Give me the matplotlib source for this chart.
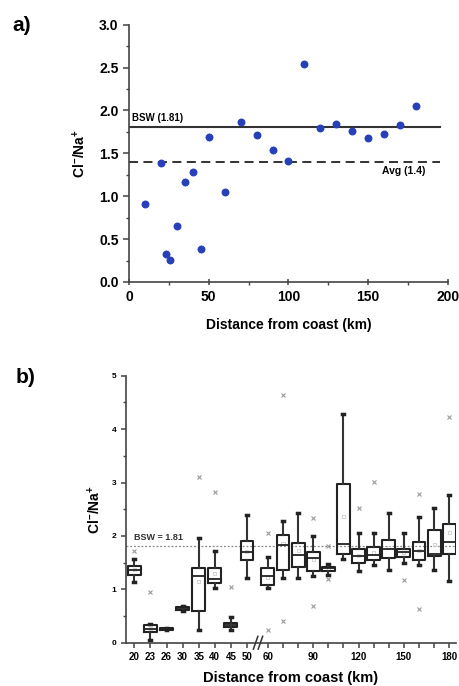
import matplotlib
matplotlib.use("Agg")
import matplotlib.pyplot as plt
import numpy as np

plt.rcParams['font.family'] = ['Liberation Sans', 'DejaVu Sans']
plt.rcParams['font.weight'] = 'bold'
plt.rcParams['mathtext.fontset'] = 'custom'
plt.rcParams['mathtext.rm'] = 'Liberation Sans:bold'
plt.rcParams['mathtext.bf'] = 'Liberation Sans:bold'

# panel a: mean ratio vs distance
dist_a = [10, 20, 23, 26, 30, 35, 40, 45, 50, 60, 70, 80, 90, 100, 110,
          120, 130, 140, 150, 160, 170, 180]
ratio_a = [0.91, 1.39, 0.33, 0.26, 0.65, 1.16, 1.28, 0.38, 1.69, 1.05, 1.86,
           1.71, 1.54, 1.41, 2.54, 1.80, 1.84, 1.76, 1.68, 1.73, 1.83, 2.05]
bsw = 1.81
avg = 1.4

# panel b: box stats per distance
cats_b = [20, 23, 26, 30, 35, 40, 45, 50, 60, 70, 80, 90, 100, 110,
          120, 130, 140, 150, 160, 170, 180]
labels_b = ['20', '23', '26', '30', '35', '40', '45', '50', '60', '', '', '90',
            '', '', '120', '', '', '150', '', '', '180']
q1 = [1.27, 0.20, 0.24, 0.62, 0.60, 1.12, 0.29, 1.54, 1.09, 1.37, 1.41, 1.34,
      1.35, 1.67, 1.50, 1.55, 1.58, 1.60, 1.55, 1.62, 1.67]
med = [1.36, 0.26, 0.26, 0.65, 1.24, 1.19, 0.33, 1.69, 1.24, 1.83, 1.64, 1.58,
       1.39, 1.85, 1.62, 1.64, 1.75, 1.69, 1.72, 1.67, 1.88]
q3 = [1.43, 0.33, 0.27, 0.67, 1.39, 1.40, 0.37, 1.90, 1.39, 2.01, 1.86, 1.70,
      1.42, 2.97, 1.76, 1.79, 1.92, 1.75, 1.89, 2.11, 2.22]
wlo = [1.14, 0.05, 0.24, 0.60, 0.24, 1.02, 0.24, 1.22, 1.02, 1.21, 1.22, 1.24,
       1.27, 1.57, 1.35, 1.45, 1.37, 1.50, 1.45, 1.36, 1.16]
whi = [1.56, 0.35, 0.28, 0.69, 1.97, 1.72, 0.49, 2.39, 1.61, 2.28, 2.42, 2.00,
       1.47, 4.29, 2.05, 2.05, 2.42, 2.05, 2.35, 2.52, 2.77]
mean_b = [1.37, 0.27, 0.26, 0.65, 1.14, 1.30, 0.34, 1.70, 1.22, 1.85, 1.72,
          1.55, 1.39, 2.37, 1.64, 1.68, 1.78, 1.69, 1.72, 1.84, 2.06]
xmax = [1.72, 0.95, None, None, 3.11, 2.82, 1.04, None, 2.06, 4.64, None, 2.34,
        1.82, None, 2.53, 3.01, None, None, 2.79, None, 4.22]
xmin = [None, None, None, None, None, None, None, None, 0.24, 0.41, None, 0.69,
        1.19, None, None, None, None, 1.17, 0.64, None, None]

# category positions with a gap at the axis break
pos_b = [i if i < 8 else 8.3 + (i - 8) * 0.94 for i in range(len(cats_b))]

fig = plt.figure(figsize=(4.59, 6.86), dpi=100)

# ---------- a) ----------
ax = fig.add_axes([0.281, 0.589, 0.695, 0.375])
ax.scatter(dist_a, ratio_a, s=22, color='#2740b8', zorder=3)
ax.plot([0, 195], [bsw, bsw], color='#333333', lw=1.5)
ax.plot([0, 195], [avg, avg], color='#222222', lw=1.3, ls=(0, (5, 3)))
ax.text(2, bsw + 0.04, 'BSW (1.81)', fontsize=7, fontweight='bold', va='bottom')
ax.text(186, avg - 0.05, 'Avg (1.4)', fontsize=7.5, fontweight='bold', va='top', ha='right')
ax.set_xlim(0, 200)
ax.set_ylim(0, 3.0)
ax.set_xticks([0, 50, 100, 150, 200])
ax.set_xticks([25, 75, 125, 175], minor=True)
ax.set_yticks(np.arange(0, 3.01, 0.5))
ax.set_yticks(np.arange(0.25, 3.0, 0.5), minor=True)
ax.set_yticklabels(['%.1f' % v for v in np.arange(0, 3.01, 0.5)])
ax.spines['top'].set_visible(False)
ax.spines['right'].set_visible(False)
for s in ['left', 'bottom']:
    ax.spines[s].set_linewidth(1.2)
    ax.spines[s].set_color('#444444')
ax.tick_params(labelsize=10, width=1.1, length=4, color='#444444')
ax.tick_params(axis='x', direction='inout', length=5)
ax.tick_params(which='minor', length=2.5, width=1, color='#444444')
for t in ax.get_xticklabels() + ax.get_yticklabels():
    t.set_fontweight('bold')
ax.set_xlabel('Distance from coast (km)', fontsize=10, fontweight='bold', labelpad=10)
ax.set_ylabel(r'Cl$^{-}$/Na$^{+}$', fontsize=10, fontweight='bold', labelpad=8)
fig.text(0.028, 0.977, 'a)', fontsize=15, fontweight='bold', va='top')

# ---------- b) ----------
bx = fig.add_axes([0.2745, 0.0631, 0.719, 0.3892])
stats = []
for i in range(len(cats_b)):
    stats.append(dict(med=med[i], q1=q1[i], q3=q3[i], whislo=wlo[i],
                      whishi=whi[i], mean=mean_b[i], fliers=[]))
bx.bxp(stats, positions=pos_b, widths=0.8, showmeans=False, showfliers=False,
       boxprops=dict(color='#222222', lw=1.5),
       medianprops=dict(color='#222222', lw=1.3),
       whiskerprops=dict(color='#333333', lw=1.5),
       capprops=dict(color='#222222', lw=2.5),
       capwidths=0.12)
# mean squares, drawn faint behind the box lines
bx.scatter(pos_b, mean_b, marker='s', s=5, facecolors='none',
           edgecolors='#cccccc', linewidths=0.6, zorder=1)
for i, p in enumerate(pos_b):
    for v in (xmax[i], xmin[i]):
        if v is not None:
            bx.plot(p, v, marker='x', ms=3, color='#999999', mew=0.8)
bx.axhline(bsw, color='#888888', lw=0.9, ls=(0, (1.5, 1.5)), zorder=0)
bx.text(0, bsw + 0.07, 'BSW = 1.81', fontsize=6.5, fontweight='bold', color='#333333', va='bottom')
bx.set_xlim(-0.52, 20.0)
bx.set_ylim(0, 5)
bx.set_xticks(pos_b)
bx.set_xticklabels(labels_b)
bx.set_yticks(range(0, 6))
bx.set_yticks(np.arange(0.5, 5, 1.0), minor=True)
bx.spines['top'].set_visible(False)
bx.spines['right'].set_visible(False)
for s in ['left', 'bottom']:
    bx.spines[s].set_linewidth(1.2)
    bx.spines[s].set_color('#444444')
bx.tick_params(axis='x', labelsize=7, width=1.1, length=3.5, color='#444444')
bx.tick_params(axis='y', labelsize=6, width=1.1, length=3.5, color='#444444')
bx.tick_params(which='minor', length=2, width=1, color='#444444')
for t in bx.get_xticklabels() + bx.get_yticklabels():
    t.set_fontweight('bold')
# axis break marks
brk = 7.69
for dx in (-0.15, 0.15):
    bx.plot([brk + dx - 0.14, brk + dx + 0.14], [-0.12, 0.12], color='#333333',
            lw=1.1, clip_on=False, zorder=5)
bx.set_xlabel('Distance from coast (km)', fontsize=10.5, fontweight='bold', labelpad=6)
bx.set_ylabel(r'Cl$^{-}$/Na$^{+}$', fontsize=10, fontweight='bold', labelpad=6)
fig.text(0.035, 0.463, 'b)', fontsize=15, fontweight='bold', va='top')

fig.savefig('out.png', dpi=100)
